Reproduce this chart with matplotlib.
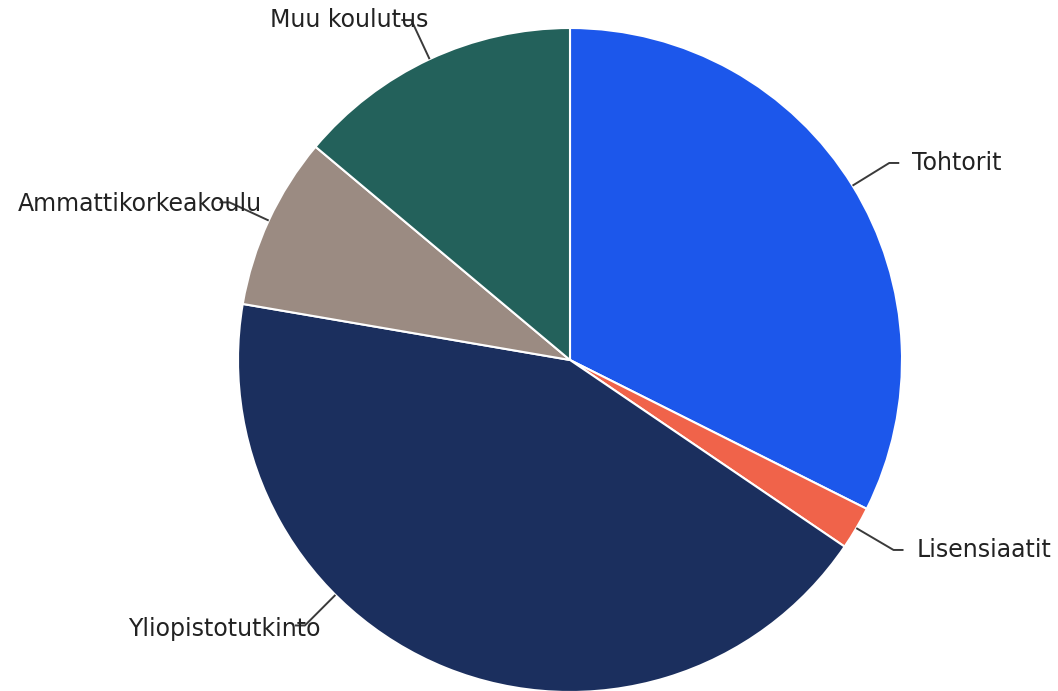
import numpy as np
import matplotlib
matplotlib.use("Agg")
import matplotlib.pyplot as plt

# koulutustaso, osuus (%)
labels = ["Tohtorit", "Lisensiaatit", "Yliopistotutkinto", "Ammattikorkeakoulu", "Muu koulutus"]
shares = [32.4, 2.1, 43.2, 8.4, 13.9]
colors = ["#1c57eb", "#f0634a", "#1b2f5e", "#9b8b82", "#23615b"]

W, H = 1058, 691
fig = plt.figure(figsize=(W / 100, H / 100), dpi=100)
ax = fig.add_axes([0, 0, 1, 1])

cx, cy, r = 570, H - 360, 332
wedges, _ = ax.pie(shares, colors=colors, startangle=90, counterclock=False,
                   center=(cx, cy), radius=r, frame=True,
                   wedgeprops=dict(edgecolor="white", linewidth=1.5))
ax.set_xlim(0, W)
ax.set_ylim(0, H)
ax.set_aspect("equal")
ax.axis("off")

# label line angle shift (deg) and text nudge (px) where labels were moved apart
angle_shift = {"Yliopistotutkinto": 23}
text_nudge = {"Ammattikorkeakoulu": 32, "Muu koulutus": 17, "Yliopistotutkinto": 16}
text_drop = {"Yliopistotutkinto": -4, "Ammattikorkeakoulu": -2}

for w, lab in zip(wedges, labels):
    mid = (w.theta1 + w.theta2) / 2 - angle_shift.get(lab, 0)
    a = np.deg2rad(mid)
    x0, y0 = cx + r * np.cos(a), cy + r * np.sin(a)
    x1, y1 = cx + 1.13 * r * np.cos(a), cy + 1.13 * r * np.sin(a)
    side = 1 if np.cos(a) >= 0 else -1
    x2 = x1 + side * 10
    ax.plot([x0, x1, x2], [y0, y1, y1], color="#3a3a3a", lw=1.4,
            solid_capstyle="butt", zorder=3)
    ty = y1 + text_drop.get(lab, 0)
    if side > 0:
        ax.text(x2 + 13, ty, lab, ha="left", va="center", fontsize=17,
                color="#222222", family="DejaVu Sans")
    else:
        ax.text(x1 + text_nudge.get(lab, 20), ty, lab, ha="right", va="center",
                fontsize=17, color="#222222", family="DejaVu Sans")

fig.savefig("out.png", dpi=100, facecolor="white")
